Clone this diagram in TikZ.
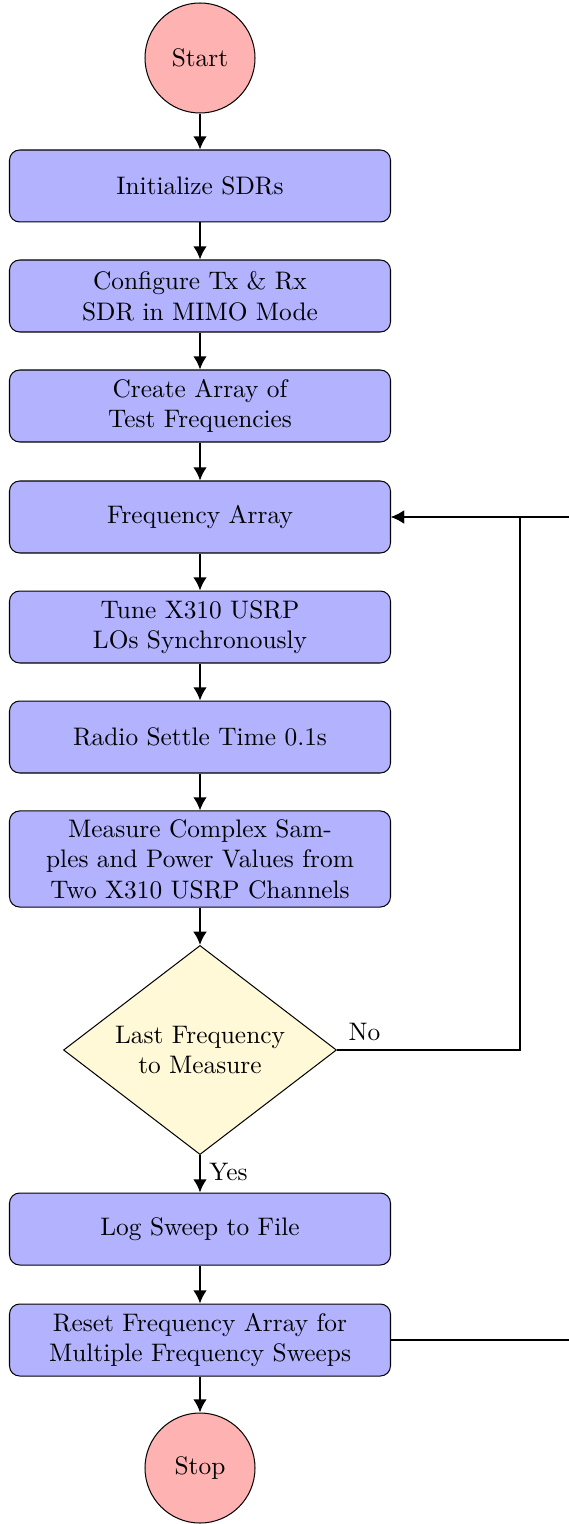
\documentclass[tikz,border=0pt]{standalone}
\usetikzlibrary{shapes.geometric,arrows.meta}
\definecolor{decfill}{RGB}{255,249,216}
\tikzset{
  stepbox/.style={rectangle, rounded corners=4pt, draw, line width=0.4pt, fill=blue!30,
    minimum width=150.3pt, minimum height=28.4pt, align=center, inner sep=2pt},
  termnode/.style={circle, draw, line width=0.4pt, fill=red!30, minimum size=43.4pt, inner sep=0pt},
  decnode/.style={diamond, aspect=1.306, draw, line width=0.4pt, fill=decfill, minimum width=107.7pt, minimum height=82.5pt, align=center, inner sep=0pt},
  conn/.style={line width=0.8pt, -{Latex[length=5.2pt,width=5.4pt]}},
}
\begin{document}
\begin{tikzpicture}[x=0.3945pt,y=-0.3945pt]
\clip (0,0) rectangle (569,1524);
\node[termnode] (start) at (200,58) {Start};
\node[stepbox] (init) at (200,186) {Initialize SDRs};
\node[stepbox] (conf) at (200,296) {Configure Tx \& Rx\\SDR in MIMO Mode};
\node[stepbox] (create) at (200,406) {Create Array of\\Test Frequencies};
\node[stepbox] (freq) at (200,517) {Frequency Array};
\node[stepbox] (tune) at (200,627) {Tune X310 USRP\\LOs Synchronously};
\node[stepbox] (settle) at (200,737) {Radio Settle Time 0.1s};
\node[stepbox, minimum height=37.9pt] (meas) at (200,859) {Measure Complex Sam-\\ples and Power Values from\\Two X310 USRP Channels};
\node[decnode] (last) at (200,1050) {Last Frequency\\to Measure};
\node[stepbox] (log) at (200,1229) {Log Sweep to File};
\node[stepbox] (reset) at (200,1340) {Reset Frequency Array for\\Multiple Frequency Sweeps};
\node[termnode] (stop) at (200,1468) {Stop};
\coordinate (nocorner) at (520,1050);
\coordinate (resetcorner) at (600,1340);

\draw[conn] (start) -- (init);
\draw[conn] (init) -- (conf);
\draw[conn] (conf) -- (create);
\draw[conn] (create) -- (freq);
\draw[conn] (freq) -- (tune);
\draw[conn] (tune) -- (settle);
\draw[conn] (settle) -- (meas);
\draw[conn] (meas) -- (last);
\draw[conn] (last) -- node[right, pos=0.45] {Yes} (log);
\draw[conn] (log) -- (reset);
\draw[conn] (reset) -- (stop);
\draw[conn] (last.east) -- node[above, pos=0.15] {No} (nocorner) |- (freq.east);
\draw[conn] (reset.east) -- (resetcorner) |- (freq.east);
\end{tikzpicture}
\end{document}
